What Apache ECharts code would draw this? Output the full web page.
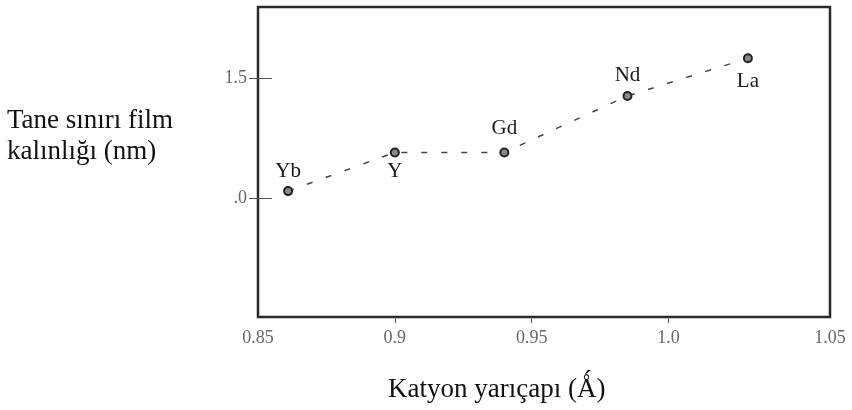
<!DOCTYPE html>
<html>
<head>
<meta charset="utf-8">
<script src="https://cdn.jsdelivr.net/npm/echarts@6/dist/echarts.min.js"></script>
<style>
  html, body { margin: 0; padding: 0; background: #fff; }
  #chart { width: 852px; height: 410px; }
</style>
</head>
<body>
<div id="chart"></div>
<script>
// cation radius (Å) vs grain boundary film thickness (nm)
const elements = ['Yb', 'Y', 'Gd', 'Nd', 'La'];
const radius = [0.861, 0.900, 0.940, 0.985, 1.029];
const thickness = [1.028, 1.19, 1.19, 1.427, 1.585];

const xTickValues = [0.85, 0.9, 0.95, 1.0, 1.059];
const xTickLabels = ['0.85', '0.9', '0.95', '1.0', '1.05'];
const yTickValues = [1.0, 1.5];
const yTickLabels = ['.0', '1.5'];

const labelPlace = ['top', 'bottom', 'top', 'top', 'bottom'];
const labelGap = [4, 4, 8, 5, 8];

const serif = '"Liberation Serif", "DejaVu Serif", serif';

const chart = echarts.init(document.getElementById('chart'));

function pick(values, labels) {
  return (v) => {
    const i = values.findIndex(t => Math.abs(t - v) < 1e-6);
    return i >= 0 ? labels[i] : '';
  };
}

chart.setOption({
  animation: false,
  grid: {
    left: 258, right: 22, top: 7, bottom: 93,
    show: true, borderColor: '#2a2a2a', borderWidth: 2.5
  },
  xAxis: {
    type: 'value',
    min: 0.85,
    max: 1.059,
    axisLine: { show: false },
    splitLine: { show: false },
    axisTick: {
      show: true, length: 6, inside: false,
      customValues: [0.9, 0.95, 1.0],
      lineStyle: { color: '#555', width: 1 }
    },
    axisLabel: {
      customValues: xTickValues,
      formatter: pick(xTickValues, xTickLabels),
      color: '#666',
      fontFamily: serif,
      fontSize: 18,
      margin: 12
    }
  },
  yAxis: [
    {
      type: 'value',
      min: 0.5,
      max: 1.8,
      axisLine: { show: false },
      splitLine: { show: false },
      axisTick: {
        show: true, inside: true, length: 14,
        customValues: yTickValues,
        lineStyle: { color: '#555', width: 1 }
      },
      axisLabel: {
        customValues: yTickValues,
        formatter: pick(yTickValues, yTickLabels),
        color: '#666',
        fontFamily: serif,
        fontSize: 18,
        margin: 11
      }
    },
    {
      type: 'value',
      position: 'left',
      min: 0.5,
      max: 1.8,
      axisLine: { show: false },
      splitLine: { show: false },
      axisLabel: { show: false },
      axisTick: {
        show: true, inside: false, length: 9,
        customValues: yTickValues,
        lineStyle: { color: '#555', width: 1 }
      }
    }
  ],
  series: [{
    type: 'line',
    yAxisIndex: 0,
    data: radius.map((r, i) => ({
      value: [r, thickness[i]],
      name: elements[i],
      label: { position: labelPlace[i], distance: labelGap[i] }
    })),
    symbol: 'circle',
    symbolSize: 8,
    itemStyle: { color: '#8a8a8a', borderColor: '#222', borderWidth: 2 },
    lineStyle: { color: '#444', width: 1.5, type: [6, 14] },
    label: {
      show: true,
      formatter: p => p.name,
      color: '#1a1a1a',
      fontFamily: serif,
      fontSize: 21
    }
  }],
  graphic: [
    {
      type: 'text',
      left: 7,
      top: 105,
      style: {
        text: 'Tane sınırı film\nkalınlığı (nm)',
        font: '27px ' + serif,
        lineHeight: 31,
        fill: '#111'
      }
    },
    {
      type: 'text',
      left: 388,
      top: 376,
      style: {
        text: 'Katyon yarıçapı (Ǻ)',
        font: '27px ' + serif,
        fill: '#111'
      }
    }
  ]
});
</script>
</body>
</html>
